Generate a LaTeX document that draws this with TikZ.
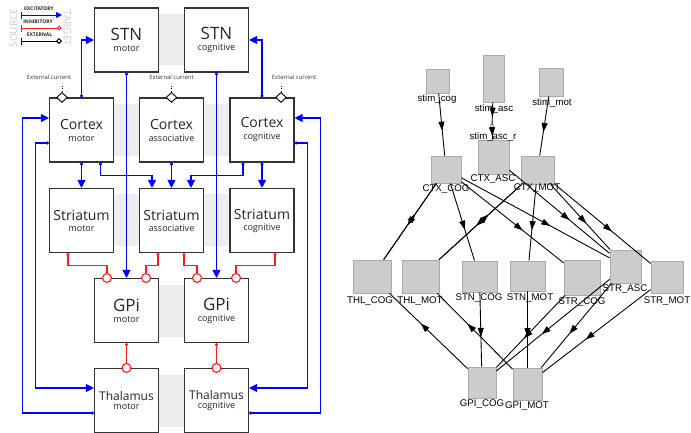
\documentclass[tikz,border=0pt]{standalone}
\usepackage{fontspec}
\setmainfont{Open Sans}
\newfontfamily\graphfont{Liberation Sans}
\usetikzlibrary{arrows.meta,shapes.geometric,decorations.markings}
\definecolor{bandgray}{RGB}{238,238,238}
\definecolor{exblue}{RGB}{0,0,255}
\definecolor{inred}{RGB}{255,25,25}
\definecolor{nodefill}{RGB}{204,204,204}
\definecolor{nodeline}{RGB}{170,170,170}
\definecolor{legendgray}{RGB}{205,205,205}
\newcommand\BigLbl[2]{{\fontsize{#1}{#1}\selectfont #2}}
\tikzset{
  box/.style={draw=black!80, line width=1.1pt, fill=white, minimum width=64pt, minimum height=64pt,
    inner sep=0pt, align=center, font=\fontsize{9}{9}\selectfont, text=black!85},
  exc/.style={draw=exblue, line width=1.1pt, {Circle[length=3pt]}-{Triangle[length=8pt,width=8pt]}},
  inh/.style={draw=inred, line width=1.1pt, {Circle[length=3pt]}-{Circle[open,length=10pt,width=10pt,fill=white]}, shorten >=-5pt},
  diam/.style={diamond, draw=black, line width=0.9pt, fill=white, minimum width=11pt, minimum height=10pt, inner sep=0pt},
  extlab/.style={font=\fontsize{5.9}{6}\selectfont, text=black!80, inner sep=0.5pt},
  leglab/.style={font=\bfseries\fontsize{5}{5}\selectfont, text=black!85, inner sep=0pt},
  legside/.style={font=\fontsize{10}{10}\selectfont, text=legendgray, inner sep=0pt},
  gbox/.style={draw=nodeline, line width=0.8pt, fill=nodefill, inner sep=0pt},
  glab/.style={font=\graphfont\fontsize{9.7}{9.7}\selectfont, inner sep=0pt},
  garrow/.style={draw=black, line width=0.9pt, postaction={decorate},
    decoration={markings, mark=at position #1 with {\arrow{Triangle[length=9pt,width=6pt]}}}},
  garrow/.default=0.6,
}
\begin{document}
\begin{tikzpicture}[x=1pt,y=-1pt]
\useasboundingbox (0,0) rectangle (691,432);
\clip (0,0) rectangle (691,432);
% ---------- left: background bands
\fill[bandgray] (126,14) rectangle (216,65);
\fill[bandgray] (81,104) rectangle (262,156);
\fill[bandgray] (81,194) rectangle (262,246);
\fill[bandgray] (126,285) rectangle (216,337);
\fill[bandgray] (126,375) rectangle (216,427);
% ---------- left: boxes
\node[box] (stnM) at (126.5,40) {\BigLbl{17}{STN}\\[2pt]motor};
\node[box] (stnC) at (216.5,40) {\BigLbl{17}{STN}\\[2pt]cognitive};
\node[box] (ctxM) at (81.5,130) {\BigLbl{14}{Cortex}\\[3pt]motor};
\node[box] (ctxA) at (171.5,130) {\BigLbl{14}{Cortex}\\[3pt]associative};
\node[box] (ctxC) at (262,130) {\BigLbl{14}{Cortex}\\[3pt]cognitive};
\node[box] (strM) at (81.5,220.5) {\BigLbl{14}{Striatum}\\[2pt]motor};
\node[box] (strA) at (171.5,220.5) {\BigLbl{14}{Striatum}\\[2pt]associative};
\node[box] (strC) at (262,220.5) {\BigLbl{14}{Striatum}\\[2pt]cognitive};
\node[box] (gpiM) at (126.5,310.5) {\BigLbl{17}{GPi}\\[2pt]motor};
\node[box] (gpiC) at (216.5,310.5) {\BigLbl{17}{GPi}\\[2pt]cognitive};
\node[box] (thM) at (126.5,400.5) {\BigLbl{12}{Thalamus}\\[0.5pt]motor};
\node[box] (thC) at (216.5,400.5) {\BigLbl{12}{Thalamus}\\[0.5pt]cognitive};
% ---------- left: excitatory
\draw[exc] (ctxM.north) |- (stnM.west);
\draw[exc] (ctxC.north) |- (stnC.east);
\draw[exc] (stnM.south) -- (gpiM.north);
\draw[exc] (stnC.south) -- (gpiC.north);
\draw[exc] (ctxM.south) -- (strM.north);
\draw[exc] (ctxA.south) -- (strA.north);
\draw[exc] (ctxC.south) -- (strC.north);
\draw[exc] ([xshift=19pt]ctxM.south) -- ++(0,13) -| ([xshift=-19.5pt]strA.north);
\draw[exc] ([xshift=-19pt]ctxC.south) -- ++(0,13) -| ([xshift=19.5pt]strA.north);
\draw[exc] ([yshift=-12.5pt]thM.west) -- ++(-71.5,0) |- ([yshift=12pt]ctxM.west);
\draw[exc] ([yshift=-13pt]ctxM.west) -- ++(-13.5,0) |- ([yshift=12.5pt]thM.west);
\draw[exc] ([yshift=-12.5pt]thC.east) -- ++(71.5,0) |- ([yshift=12pt]ctxC.east);
\draw[exc] ([yshift=-13pt]ctxC.east) -- ++(13,0) |- ([yshift=12.5pt]thC.east);
% ---------- left: inhibitory
\draw[inh] ([xshift=-13.5pt]strM.south) -- ++(0,12.5) -| ([xshift=-19.5pt]gpiM.north);
\draw[inh] ([xshift=-13.5pt]strA.south) -- ++(0,12.5) -| ([xshift=19.5pt]gpiM.north);
\draw[inh] ([xshift=12.5pt]strA.south) -- ++(0,12.5) -| ([xshift=-19.5pt]gpiC.north);
\draw[inh] ([xshift=13pt]strC.south) -- ++(0,12.5) -| ([xshift=19.5pt]gpiC.north);
\draw[inh] (gpiM.south) -- (thM.north);
\draw[inh] (gpiC.south) -- (thC.north);
% ---------- left: external current
\node[extlab] (eM) at (49,77) {External current};
\node[extlab] (eA) at (171.5,77) {External current};
\node[extlab] (eC) at (294,77) {External current};
\node[diam] (dM) at ([xshift=-19.5pt]ctxM.north) {};
\node[diam] (dA) at (ctxA.north) {};
\node[diam] (dC) at ([xshift=19pt]ctxC.north) {};
\draw[black, line width=0.8pt, dotted] (dM.north) -- ++(0,-8);
\draw[black, line width=0.8pt, dotted] (dA.north) -- ++(0,-8);
\draw[black, line width=0.8pt, dotted] (dC.north) -- ++(0,-8);
% ---------- legend
\node[legside, rotate=90] (src) at (13.5,28) {SOURCE};
\node[legside, rotate=-90] (tgt) at (67.5,28.5) {TARGET};
\coordinate (e1) at (21,15); \coordinate (e2) at (62,15);
\draw[draw=exblue, line width=1pt, {Bar[width=7pt]}-{Triangle[length=6pt,width=6pt]}] (e1) -- (e2);
\node[leglab] (le) at (39,8.5) {EXCITATORY};
\coordinate (i1) at (21,28); \coordinate (i2) at (61.5,28);
\draw[draw=inred, line width=1pt, {Bar[width=7pt]}-{Circle[open,length=4.5pt,width=4.5pt,fill=white]}] (i1) -- (i2);
\node[leglab] (li) at (38,21.5) {INHIBITORY};
\coordinate (x1) at (21,41); \coordinate (x2) at (62,41);
\draw[draw=black, line width=1pt, {Bar[width=7pt]}-{Diamond[open,length=6pt,width=6pt,fill=white]}] (x1) -- (x2);
\node[leglab] (lx) at (39.5,34.5) {EXTERNAL};
% ---------- right: graph nodes
\node[gbox, minimum width=23pt, minimum height=24pt] (sCog) at (437.5,81) {};
\node[gbox, minimum width=21pt, minimum height=47pt] (sAsc) at (493.5,78.5) {};
\node[gbox, minimum width=24pt, minimum height=28pt] (sMot) at (551,82) {};
\node[gbox, minimum width=3pt, minimum height=5pt, line width=0.4pt] (sAscR) at (492,127) {};
\node[gbox, minimum width=30pt, minimum height=27pt] (cCog) at (446,169.5) {};
\node[gbox, minimum width=31pt, minimum height=34pt] (cAsc) at (493.5,157) {};
\node[gbox, minimum width=33pt, minimum height=28pt] (cMot) at (537.5,170) {};
\node[gbox, minimum width=38pt, minimum height=33pt] (tCog) at (372,276.5) {};
\node[gbox, minimum width=37pt, minimum height=33pt] (tMot) at (420.5,276.5) {};
\node[gbox, minimum width=35pt, minimum height=31pt] (nCog) at (479.5,276.5) {};
\node[gbox, minimum width=35pt, minimum height=30pt] (nMot) at (527.5,276) {};
\node[gbox, minimum width=36pt, minimum height=35pt] (rCog) at (582,277.5) {};
\node[gbox, minimum width=31pt, minimum height=33pt] (rAsc) at (625.5,266.5) {};
\node[gbox, minimum width=32pt, minimum height=32pt] (rMot) at (667,277) {};
\node[gbox, minimum width=28pt, minimum height=31pt] (pCog) at (482,382.5) {};
\node[gbox, minimum width=29pt, minimum height=32pt] (pMot) at (527.5,384) {};
% ---------- right: edges
\draw[garrow] (sCog) -- (cCog);
\draw[garrow=0.65] (sAsc) -- (sAscR);
\draw[garrow=0.65] (sAscR) -- (cAsc);
\draw[garrow] (sMot) -- (cMot);
\draw[garrow=0.55] (cCog) -- (tCog);
\draw[garrow=0.6] (tCog) -- (cCog);
\draw[garrow=0.55] (cMot) -- (tMot);
\draw[garrow=0.6] (tMot) -- (cMot);
\draw[garrow] (cCog) -- (nCog);
\draw[garrow] (cCog) -- (rCog);
\draw[garrow] (cCog) -- (rAsc);
\draw[garrow] (cAsc) -- (rAsc);
\draw[garrow] (cMot) -- (nMot);
\draw[garrow] (cMot) -- (rAsc);
\draw[garrow] (cMot) -- (rMot);
\draw[garrow] (pCog) -- (tCog);
\draw[garrow] (pMot) -- (tMot);
\draw[garrow] (nCog) -- (pCog);
\draw[garrow] (nMot) -- (pMot);
\draw[garrow] (rCog) -- (pCog);
\draw[garrow] (rAsc) -- (pCog);
\draw[garrow] (rAsc) -- (pMot);
\draw[garrow] (rMot) -- (pMot);
% ---------- right: labels
\node[glab] (lsCog) at (437,99) {stim\_cog};
\node[glab] (lsAsc) at (494,109) {stim\_asc};
\node[glab] (lsMot) at (552,103) {stim\_mot};
\node[glab] (lsAscR) at (493,137) {stim\_asc\_r};
\node[glab] (lcCog) at (446,189) {CTX\_COG};
\node[glab] (lcAsc) at (493,179) {CTX\_ASC};
\node[glab] (lcMot) at (537,188) {CTX\_MOT};
\node[glab] (ltCog) at (370,301) {THL\_COG};
\node[glab] (ltMot) at (420,301) {THL\_MOT};
\node[glab] (lnCog) at (479,298) {STN\_COG};
\node[glab] (lnMot) at (530,298) {STN\_MOT};
\node[glab] (lrCog) at (582,302) {STR\_COG};
\node[glab] (lrAsc) at (625,289) {STR\_ASC};
\node[glab] (lrMot) at (667,301) {STR\_MOT};
\node[glab] (lpCog) at (482,404) {GPI\_COG};
\node[glab] (lpMot) at (527,406) {GPI\_MOT};
\end{tikzpicture}
\end{document}
